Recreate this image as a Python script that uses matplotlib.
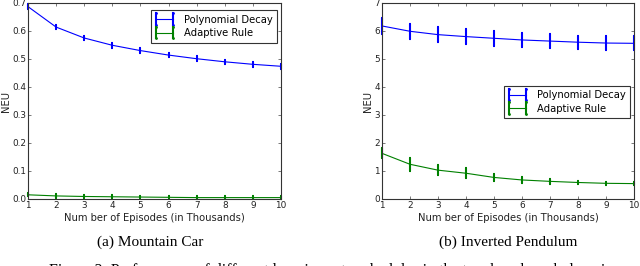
import matplotlib
matplotlib.use("Agg")
import matplotlib.pyplot as plt
from matplotlib.legend_handler import HandlerBase
from matplotlib.lines import Line2D

episodes = [1, 2, 3, 4, 5, 6, 7, 8, 9, 10]

mc_poly = [0.687, 0.614, 0.575, 0.549, 0.530, 0.514, 0.501, 0.490, 0.481, 0.474]
mc_poly_err = [0.008, 0.008, 0.008, 0.008, 0.008, 0.008, 0.008, 0.008, 0.008, 0.008]
mc_adapt = [0.015, 0.011, 0.009, 0.008, 0.007, 0.006, 0.005, 0.005, 0.005, 0.005]
mc_adapt_err = [0.006, 0.006, 0.005, 0.005, 0.005, 0.004, 0.004, 0.004, 0.004, 0.004]

ip_poly = [6.18, 5.99, 5.87, 5.80, 5.74, 5.68, 5.64, 5.60, 5.57, 5.56]
ip_poly_err = [0.30, 0.27, 0.27, 0.26, 0.26, 0.25, 0.25, 0.23, 0.25, 0.25]
ip_adapt = [1.63, 1.24, 1.03, 0.92, 0.77, 0.68, 0.63, 0.59, 0.56, 0.55]
ip_adapt_err = [0.18, 0.24, 0.19, 0.18, 0.12, 0.10, 0.08, 0.06, 0.06, 0.05]

labels = ["Polynomial Decay", "Adaptive Rule"]
colors = ["#0000ff", "#008000"]

x_ticks = [1, 2, 3, 4, 5, 6, 7, 8, 9, 10]
mc_yticks = [0.0, 0.1, 0.2, 0.3, 0.4, 0.5, 0.6, 0.7]
ip_yticks = [0, 1, 2, 3, 4, 5, 6, 7]

xlabel = "Num ber of Episodes (in Thousands)"
ylabel = "NEU"
subcaps = ["(a) Mountain Car", "(b) Inverted Pendulum"]
caption = "Figure 3: Performance of different learning rate schedules in the two benchmark domains."


class HHandler(HandlerBase):
    def create_artists(self, legend, orig_handle, xdescent, ydescent,
                       width, height, fontsize, trans):
        c = orig_handle.get_color()
        y = height / 2 - ydescent
        x0, x1 = -xdescent, width - xdescent
        arts = [Line2D([x0, x1], [y, y], color=c, lw=0.8)]
        for xx in (x0, x1):
            arts.append(Line2D([xx, xx], [y - height * 0.8, y + height * 0.8],
                               color=c, lw=1.5))
            arts.append(Line2D([xx, xx], [y - height * 0.8, y + height * 0.8],
                               color=c, lw=0, marker=".", markersize=2.0))
        for a in arts:
            a.set_transform(trans)
        return arts


fig = plt.figure(figsize=(6.4, 2.66), dpi=100)
W, H = 640, 266


def make_ax(left, right, top, bottom):
    return fig.add_axes([left / W, 1 - bottom / H, (right - left) / W, (bottom - top) / H])


ax1 = make_ax(28, 281, 3, 199)
ax2 = make_ax(382, 634, 3, 199)

tick_font = dict(family="DejaVu Sans", size=6.4)

for ax, data, yt, ylim, fmt in [
    (ax1, [(mc_poly, mc_poly_err), (mc_adapt, mc_adapt_err)], mc_yticks, (0, 0.7), "{:.1f}"),
    (ax2, [(ip_poly, ip_poly_err), (ip_adapt, ip_adapt_err)], ip_yticks, (0, 7), "{:d}"),
]:
    handles = []
    for (vals, err), c, lab in zip(data, colors, labels):
        ax.errorbar(episodes, vals, yerr=err, color=c, lw=0.8, elinewidth=1.5,
                    capsize=1.0, capthick=1.5, clip_on=False)
        handles.append(Line2D([], [], color=c, label=lab))
    ax.set_xlim(1, 10)
    ax.set_ylim(*ylim)
    ax.set_xticks(x_ticks)
    ax.set_yticks(yt)
    ax.set_xticklabels([str(v) for v in x_ticks], **tick_font)
    ax.set_yticklabels([fmt.format(v) for v in yt], **tick_font)
    ax.tick_params(direction="in", length=2.5, width=0.5, top=True, right=True,
                   pad=1.5, colors="#444444", labelcolor="#222222")
    for s in ax.spines.values():
        s.set_linewidth(0.8)
        s.set_color("#333333")
    ax.set_xlabel(xlabel, family="DejaVu Sans", size=7.2, color="#222222", labelpad=2)
    ax.set_ylabel(ylabel, family="DejaVu Sans", size=7.2, color="#222222", labelpad=1)
    ax.handles_ = handles

leg_kw = dict(handler_map={Line2D: HHandler()}, prop=dict(family="DejaVu Sans", size=7.2),
              fancybox=False, edgecolor="#333333", framealpha=1, handlelength=1.7,
              handletextpad=1.1, borderpad=0.45, labelspacing=0.35, borderaxespad=0)
l1 = ax1.legend(handles=ax1.handles_, loc="upper right", bbox_to_anchor=(0.984, 0.964), **leg_kw)
l1.get_frame().set_linewidth(0.8)
l2 = ax2.legend(handles=ax2.handles_, loc="lower right", bbox_to_anchor=(0.984, 0.413), **leg_kw)
l2.get_frame().set_linewidth(0.8)

fig.text(150 / W, 1 - 242 / H, subcaps[0], ha="center", va="center",
         family="Liberation Serif", size=11)
fig.text(508 / W, 1 - 242 / H, subcaps[1], ha="center", va="center",
         family="Liberation Serif", size=11)
fig.text(336 / W, -9 / H, caption, ha="center", va="baseline",
         family="Liberation Serif", size=11.5)

fig.savefig("out.png", dpi=100)
